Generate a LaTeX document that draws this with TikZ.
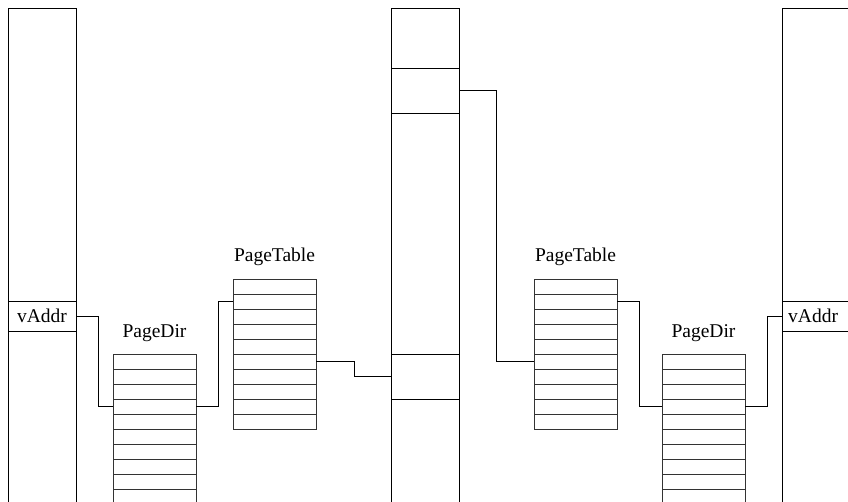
\documentclass[tikz,border=0pt]{standalone}
\usepackage{fontspec}
\setmainfont{Liberation Serif}
\begin{document}
\begin{tikzpicture}[x=1pt,y=-1pt,
  box/.style={draw=black,line width=0.8pt,inner sep=0pt,outer sep=0pt,anchor=north west},
  cell/.style={box,draw=black!80,minimum width=83pt,minimum height=15pt},
  wire/.style={draw=black,line width=0.8pt},
  lbl/.style={font=\fontsize{19.5}{23}\selectfont,inner sep=0pt}]
\useasboundingbox (0,0) rectangle (848,502);
\clip (0,0) rectangle (848,502);
% columns
\node[box,minimum width=68pt,minimum height=502pt] (colL) at (8,8) {};
\node[box,minimum width=68pt,minimum height=30pt,font=\fontsize{19.5}{23}\selectfont] (vaL) at (8,301) {vAddr};
\node[box,minimum width=68pt,minimum height=502pt] (colC) at (391,8) {};
\node[box,minimum width=68pt,minimum height=45pt] (cc1) at (391,68) {};
\node[box,minimum width=68pt,minimum height=45pt] (cc2) at (391,354) {};
\node[box,minimum width=68pt,minimum height=502pt] (colR) at (782,8) {};
\node[box,minimum width=68pt,minimum height=30pt] (vaR) at (782,301) {};
\node[lbl,anchor=west] (vaRt) at (788,316) {vAddr};
% tables
\foreach \i in {0,...,9} {
  \node[cell] (pdA-\i) at (113,354+15*\i) {};
  \node[cell] (ptA-\i) at (233,279+15*\i) {};
  \node[cell] (ptB-\i) at (534,279+15*\i) {};
  \node[cell] (pdB-\i) at (662,354+15*\i) {};
}
\node[lbl] (lpdA) at (154.5,333) {PageDir};
\node[lbl] (lptA) at (274.5,257) {PageTable};
\node[lbl] (lptB) at (575.5,257) {PageTable};
\node[lbl] (lpdB) at (703.5,333) {PageDir};
% connectors
\draw[wire] (vaL.east) -- ++(22,0) |- (pdA-3.west);
\draw[wire] (pdA-3.east) -- ++(22,0) |- (ptA-1.west);
\draw[wire] (ptA-5.east) -- ++(38,0) |- (cc2.west);
\draw[wire] (cc1.east) -- ++(37,0) |- (ptB-5.west);
\draw[wire] (ptB-1.east) -- ++(22,0) |- (pdB-3.west);
\draw[wire] (pdB-3.east) -- ++(22,0) |- (vaR.west);
\end{tikzpicture}
\end{document}
